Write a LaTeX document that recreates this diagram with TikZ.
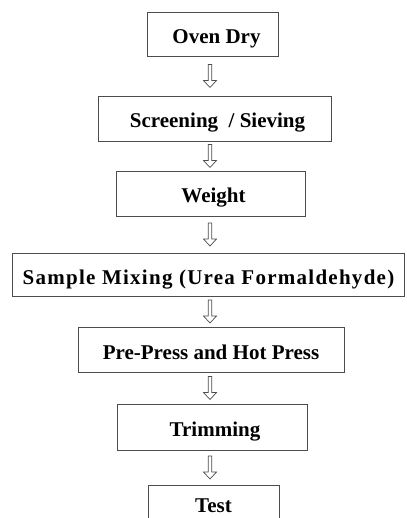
\documentclass[tikz,border=0pt]{standalone}
\usepackage{fontspec}
\setmainfont{Liberation Serif}
\usetikzlibrary{decorations.markings}
\tikzset{
  stepbox/.style={draw=black!70,line width=0.8pt,inner sep=0pt,minimum height=45pt,
    text height=23pt,text depth=4pt,font=\fontsize{21}{25}\selectfont\bfseries},
  flowarrow/.style={decoration={markings,mark=at position 0.5 with {
      \draw[black!70,line width=0.7pt] (-11.5,-1.8) -- (4.5,-1.8) -- (4.5,-6.5) -- (11.5,0)
        -- (4.5,6.5) -- (4.5,1.8) -- (-11.5,1.8) -- cycle;}},postaction={decorate}}
}
\begin{document}
\begin{tikzpicture}[x=1pt,y=-1pt]
            \useasboundingbox (0,0) rectangle (406,518);
            \def\ax{210}
            \coordinate (axis) at (\ax,0);
            \node[stepbox,minimum width=131pt,minimum height=44pt] (oven) at (212.5,34) {\hspace{8pt}Oven Dry};
            \node[stepbox,minimum width=233pt] (screen) at (214.5,118.5) {\hspace{6pt}Screening\ \ /\ Sieving};
            \node[stepbox,minimum width=189pt] (weight) at (210.5,193.5) {\hspace{6pt}Weight};
            \node[stepbox,minimum width=392pt,minimum height=43pt] (mixing) at (208.5,274.5)
              {\addfontfeature{LetterSpace=6}Sample\ Mixing\ (Urea\ Formaldehyde)};
            \node[stepbox,minimum width=266pt] (press) at (211,349.5) {Pre-Press and Hot Press};
            \node[stepbox,minimum width=190pt,minimum height=46pt] (trim) at (212,427) {\hspace{6pt}Trimming};
            \node[stepbox,minimum width=131pt,text height=13pt] (test) at (213.5,507.5) {Test};
            % hollow arrows between the steps
            \foreach \a/\b in {oven/screen,screen/weight,weight/mixing,mixing/press,press/trim,trim/test}
              \path[flowarrow] (\a.south -| axis) -- (\b.north -| axis);
        \end{tikzpicture}
\end{document}
